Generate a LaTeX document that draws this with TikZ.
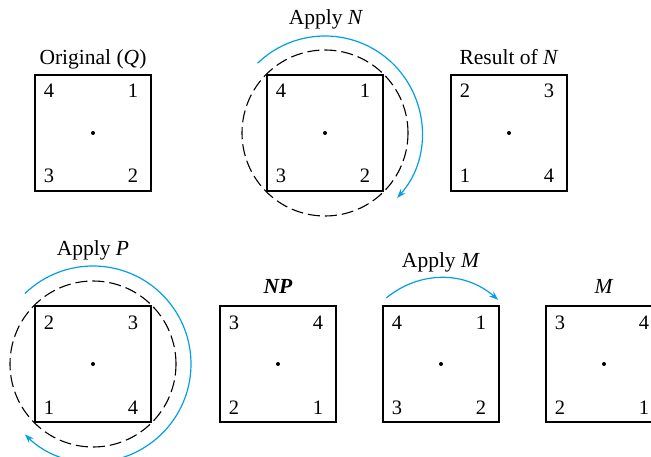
\documentclass[tikz,border=0pt]{standalone}
\usepackage{fontspec}
\setmainfont{Liberation Serif}
\usetikzlibrary{calc,arrows.meta,positioning}
\definecolor{arcblue}{RGB}{0,160,228}

\begin{document}
\begin{tikzpicture}[x=1pt,y=1pt,
    panel/.style={draw,line width=2.3pt,minimum size=116pt,inner sep=0pt},
    num/.style={anchor=base,inner sep=0pt,font=\fontsize{20.5}{24}\selectfont},
    title/.style={anchor=base,inner sep=0pt,font=\fontsize{21.5}{25}\selectfont},
    guide/.style={dash pattern=on 12pt off 5pt,line width=1.1pt},
    turn/.style={arcblue,line width=1.2pt,-{Stealth[length=9pt,width=6.5pt]}}]
        \clip (0,0) rectangle (651,456);
        % the seven squares with their corner numbers
        \foreach \p/\cx/\cy/\a/\b/\c/\d in {q/93/323/4/1/3/2, n/325/323/4/1/3/2,
            rn/509/323/2/3/1/4, p/93/92/2/3/1/4, np/278/92/3/4/2/1,
            m/441/92/4/1/3/2, mm/604/92/3/4/2/1} {
            \node[panel] (\p) at (\cx,\cy) {};
            \fill (\p.center) circle (2pt);
            \node[num] (\p-tl) at ($(\p.center)+(-44,35)$) {\a};
            \node[num] (\p-tr) at ($(\p.center)+(40,35)$) {\b};
            \node[num] (\p-bl) at ($(\p.center)+(-44,-50)$) {\c};
            \node[num] (\p-br) at ($(\p.center)+(40,-50)$) {\d};
        }
        % titles
        \node[title] (tq) at ($(q.north)+(0,9)$) {Original (\textit{Q})};
        \node[title] (tn) at ($(n.north)+(1,49)$) {Apply \textit{N}};
        \node[title] (trn) at ($(rn.north)+(0,9)$) {Result of \textit{N}};
        \node[title] (tp) at ($(p.north)+(0,49)$) {Apply \textit{P}};
        \node[title] (tnp) at ($(np.north)+(0,11)$) {\textbf{\textit{NP}}};
        \node[title] (tm) at ($(m.north)+(0,37)$) {Apply \textit{M}};
        \node[title] (tmm) at ($(mm.north)+(0,11)$) {\textit{M}};
        % rotations
        \draw[guide] (n.center) circle (83);
        \draw[turn] ($(n.center)+(134:97)$) arc (134:-42:97);
        \draw[guide] (p.center) circle (83);
        \draw[turn] ($(p.center)+(134:98)$) arc (134:-134:98);
        \draw[turn] ($(m.north west)+(4.5,7)$) to[bend left=40] ($(m.north east)+(-2,5)$);
    \end{tikzpicture}
\end{document}
